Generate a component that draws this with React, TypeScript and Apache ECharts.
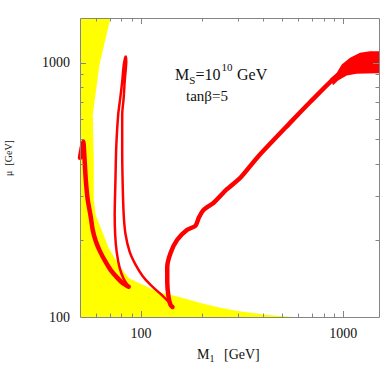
import React, { useEffect, useRef } from 'react';
import * as echarts from 'echarts';

// Axis ticks (log scales)
const xTicks = [60, 70, 80, 90, 100, 200, 300, 400, 500, 600, 700, 800, 900, 1000];
const yTicks = [200, 300, 400, 500, 600, 700, 800, 900, 1000];
const majorTicks = [100, 1000];

// Excluded (yellow) region boundary: [M1, mu]
const yellowRegion: [number, number][] = [
  [50, 1500], [70.7, 1500], [62.4, 985], [57.8, 625], [58.5, 415], [58.5, 289],
  [59.8, 252], [69.3, 187], [77.6, 160], [87.0, 142.5], [95.2, 137.4], [122, 125.5],
  [153.4, 120], [196.8, 113.5], [249.8, 108.5], [313, 105.1], [425.6, 101.8], [571, 100], [50, 100],
];

// Red allowed bands
const curveA: [number, number][] = [
  [50.0, 423], [51.05, 464], [51.9, 490], [52.5, 435], [53.4, 347], [54.6, 289], [56.3, 252],
  [57.8, 220], [59.8, 199], [62.6, 182], [66.8, 165], [70.9, 153], [76.5, 142.5], [81.2, 136], [87.0, 131.5],
];
const curveB: [number, number][] = [
  [87.0, 131.5], [82.2, 141.2], [78.5, 156], [75.9, 180.4], [74.6, 210.5], [74.2, 252.4], [74.8, 340.5],
  [75.5, 463.7], [77.2, 625.5], [79.1, 729.7], [80.8, 843.6], [82.2, 976], [83.6, 1049], [84.4, 1059],
  [84.6, 1012], [83.1, 843.6], [82.2, 729.7], [80.8, 625.5], [80.8, 463.7], [81.2, 340.5], [82.2, 252.4],
  [84.0, 210.5], [88.0, 180.4], [94.2, 160.3], [101.9, 145.1], [111.6, 133.7], [125.0, 123.2],
  [140.1, 112.5], [143.2, 109.5],
];
const curveC: [number, number][] = [
  [143.2, 109.5], [140.1, 111.5], [136.9, 119.9], [134.9, 137.4], [134.9, 157.4], [140.1, 178.7],
  [151.1, 201.2], [169.3, 220.3], [186, 228.5], [193.1, 245.6], [204.3, 264.1], [228.8, 281.4],
  [264.4, 316.7], [309.8, 353.1], [378.7, 427.2], [552.7, 587], [685.5, 700.8], [860, 839.8], [941.7, 891],
];
const fanRegion: [number, number][] = [
  [860, 864.8], [928, 913], [982, 984.7], [1079, 1046], [1209, 1095], [1354, 1111], [1500, 1111],
  [1500, 910], [1294, 907.6], [1164, 905], [1039, 891], [942, 851.5], [889.6, 816],
];

const axisColor = '#858585';
const textColor = '#111';
const serif = 'Liberation Serif';
const red = '#ff0000';
const yellow = '#ffff00';

export default function App() {
  const ref = useRef<HTMLDivElement>(null);
  useEffect(() => {
    if (!ref.current) return;
    const chart = echarts.init(ref.current, undefined, { renderer: 'svg' });
    const isMajor = (v: number) => majorTicks.some((m) => Math.abs(m - v) < 1e-6 * m);

    const polygonSeries = (pts: [number, number][], fill: string, z: number) => ({
      type: 'custom',
      data: [[pts[0][0], pts[0][1]]],
      z,
      silent: true,
      clip: true,
      renderItem: (_p: any, api: any) => ({
        type: 'polygon',
        shape: { points: pts.map((p) => api.coord(p)) },
        style: { fill, stroke: null },
      }),
    });

    const lineSeries = (pts: [number, number][], width: number) => ({
      type: 'line',
      data: pts,
      symbol: 'none',
      showSymbol: false,
      smooth: 0.25,
      z: 3,
      silent: true,
      lineStyle: { color: red, width, cap: 'round', join: 'round' },
    });

    const tickSeries = (vals: number[], dir: 'x' | 'y') => ({
      type: 'custom',
      data: vals.map((v) => (dir === 'x' ? [v, 100] : [50, v])),
      z: 10,
      silent: true,
      renderItem: (params: any, api: any) => {
        const cs = params.coordSys;
        const v0 = api.value(0);
        const v1 = api.value(1);
        const p = api.coord([v0, v1]);
        const len = isMajor(dir === 'x' ? v0 : v1) ? 6 : 3.5;
        const style = { stroke: axisColor, lineWidth: 1 };
        if (dir === 'x') {
          const x = Math.round(p[0]) + 0.5;
          return {
            type: 'group',
            children: [
              { type: 'line', shape: { x1: x, y1: cs.y + cs.height, x2: x, y2: cs.y + cs.height - len }, style },
              { type: 'line', shape: { x1: x, y1: cs.y, x2: x, y2: cs.y + len }, style },
            ],
          };
        }
        const y = Math.round(p[1]) + 0.5;
        return {
          type: 'group',
          children: [
            { type: 'line', shape: { x1: cs.x, y1: y, x2: cs.x + len, y2: y }, style },
            { type: 'line', shape: { x1: cs.x + cs.width, y1: y, x2: cs.x + cs.width - len, y2: y }, style },
          ],
        };
      },
    });

    const frameSeries = {
      type: 'custom',
      data: [[50, 100]],
      z: 11,
      silent: true,
      renderItem: (params: any) => {
        const cs = params.coordSys;
        return {
          type: 'rect',
          shape: { x: cs.x + 0.5, y: cs.y + 0.5, width: cs.width, height: cs.height },
          style: { fill: 'none', stroke: axisColor, lineWidth: 1 },
        };
      },
    };

    const labelFmt = (v: number) => (isMajor(v) ? String(Math.round(v)) : '');

    const txt = (text: string, x: number, y: number, size: number, extra: any = {}) => ({
      type: 'text',
      x,
      y,
      silent: true,
      ...extra,
      style: {
        text,
        fill: textColor,
        font: `${size}px "${serif}"`,
        align: 'left',
        verticalAlign: 'middle',
        ...(extra.style || {}),
      },
    });

    chart.setOption({
      animation: false,
      backgroundColor: '#ffffff',
      grid: { left: 80, top: 18, right: 3, bottom: 65, containLabel: false },
      xAxis: {
        type: 'log',
        logBase: 10,
        min: 50,
        max: 1500,
        axisLine: { show: false },
        axisTick: { show: false },
        splitLine: { show: false },
        axisLabel: { formatter: labelFmt, color: textColor, fontFamily: serif, fontSize: 14, margin: 9 },
      },
      yAxis: {
        type: 'log',
        logBase: 10,
        min: 100,
        max: 1500,
        axisLine: { show: false },
        axisTick: { show: false },
        splitLine: { show: false },
        axisLabel: { formatter: labelFmt, color: textColor, fontFamily: serif, fontSize: 14, margin: 10 },
      },
      series: [
        polygonSeries(yellowRegion, yellow, 1),
        lineSeries(curveA, 4.5),
        lineSeries(curveB, 2.5),
        lineSeries(curveC, 4.5),
        polygonSeries(fanRegion, red, 3),
        tickSeries(xTicks, 'x'),
        tickSeries(yTicks, 'y'),
        frameSeries,
      ],
      graphic: [
        // annotation
        txt('M', 175, 74.5, 16),
        txt('S', 189.2, 79.5, 11),
        txt('=10', 195.5, 74.5, 16),
        txt('10', 221.5, 66.5, 11),
        txt('GeV', 237, 74.5, 16),
        txt('tan\u03b2=5', 186, 96, 15),
        // x title
        txt('M', 197, 354.5, 14),
        txt('1', 209.5, 358.5, 10),
        txt('[GeV]', 224, 354.5, 14),
        // y title
        {
          type: 'text',
          x: 8,
          y: 158,
          rotation: Math.PI / 2,
          silent: true,
          style: {
            text: '\u03bc  [GeV]',
            fill: textColor,
            font: `10px "${serif}"`,
            align: 'center',
            verticalAlign: 'middle',
          },
        },
      ],
    });
    return () => chart.dispose();
  }, []);
  return <div ref={ref} style={{ position: 'absolute', left: 0, top: 0, width: 382, height: 382 }} />;
}
